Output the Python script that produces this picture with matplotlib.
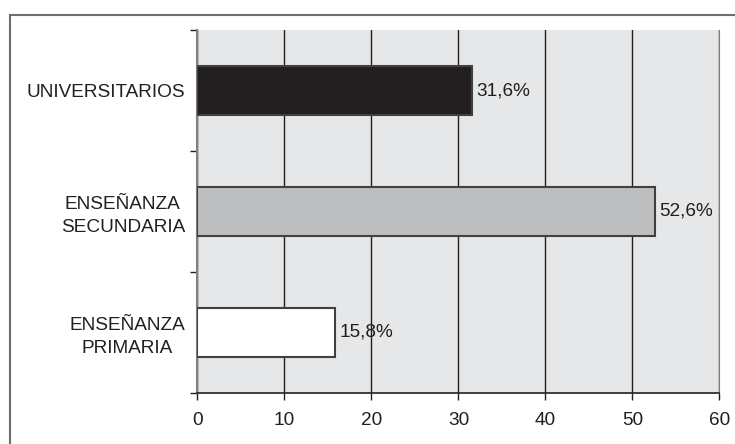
import matplotlib.pyplot as plt
from matplotlib.lines import Line2D

categorias = ["ENSEÑANZA\nPRIMARIA", "ENSEÑANZA\nSECUNDARIA", "UNIVERSITARIOS"]
porcentajes = [15.8, 52.6, 31.6]
etiquetas = ["15,8%", "52,6%", "31,6%"]
colores = ["#ffffff", "#bcbec0", "#231f20"]
xticks = [0, 10, 20, 30, 40, 50, 60]

plt.rcParams.update({'font.family': 'Liberation Sans', 'font.size': 13.7})

fig = plt.figure(figsize=(7.35, 4.44), dpi=100)
ax = fig.add_axes([0.2687, 0.1149, 0.9789 - 0.2687, 0.9324 - 0.1149])
ax.set_facecolor('#e6e7e8')

pos = list(range(len(categorias)))
bars = ax.barh(pos, porcentajes, height=0.41, color=colores,
               edgecolor='#404040', linewidth=1.5, zorder=3)
for b, txt in zip(bars, etiquetas):
    ax.annotate(txt, (b.get_width(), b.get_y() + b.get_height() / 2),
                xytext=(3, 0), textcoords='offset points',
                va='center', ha='left', color='#231f20')

ax.set_xlim(0, 60)
ax.set_ylim(-0.5, 2.5)
ax.set_xticks(xticks)
ax.set_xticklabels([str(t) for t in xticks], color='#231f20')

# separadores en los bordes de cada categoria, nombres en el centro
ax.set_yticks([-0.5, 0.5, 1.5, 2.5])
ax.set_yticklabels([])
ax.set_yticks(pos, minor=True)
ax.set_yticklabels(categorias, minor=True, color='#231f20', ha='right',
                   multialignment='center', linespacing=1.45)
ax.tick_params(axis='y', which='major', length=5, width=1, color='#231f20')
ax.tick_params(axis='y', which='minor', length=0, pad=9)
ax.tick_params(axis='x', length=5, width=1, color='#231f20', pad=9)

ax.grid(axis='x', color='#231f20', linewidth=1, zorder=1)
ax.set_axisbelow(True)
ax.spines['top'].set_visible(False)
ax.spines['right'].set_color('#808080')
ax.spines['left'].set_color('#808080')
ax.spines['left'].set_linewidth(1.5)
ax.spines['bottom'].set_color('#231f20')
ax.spines['bottom'].set_linewidth(1.2)

# marco exterior
fig.add_artist(Line2D([10 / 735, 1], [1 - 15 / 444, 1 - 15 / 444],
                      transform=fig.transFigure, color='#6d6e71', linewidth=1.5))
fig.add_artist(Line2D([10 / 735, 10 / 735], [0, 1 - 15 / 444],
                      transform=fig.transFigure, color='#6d6e71', linewidth=1.5))

plt.savefig('out.png', dpi=100)
